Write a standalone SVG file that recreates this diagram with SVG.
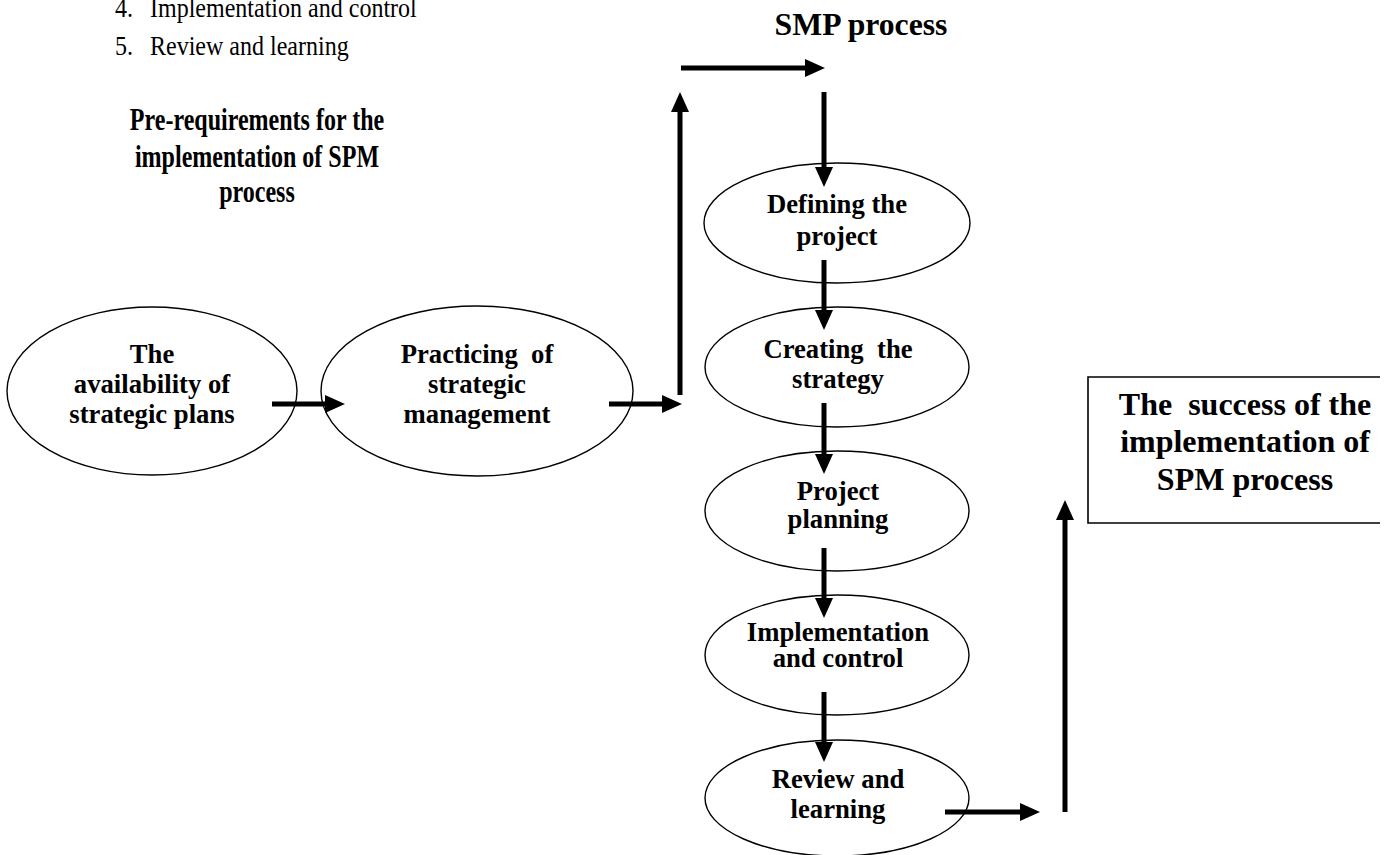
<svg xmlns="http://www.w3.org/2000/svg" width="1391" height="855" viewBox="0 0 1391 855">
  <style>
    .bg { fill: #ffffff; }
    .node { fill: #ffffff; stroke: #000000; stroke-width: 1.4; }
    .frame { fill: none; stroke: #000000; stroke-width: 1.6; }
    .list { font-family: "Liberation Serif", "Times New Roman", serif; font-size: 27px; fill: #000000; }
    .head { font-family: "Liberation Serif", "Times New Roman", serif; font-weight: bold; fill: #000000; text-anchor: middle; }
    .lbl { font-family: "Liberation Serif", "Times New Roman", serif; font-weight: bold; font-size: 26.7px; fill: #000000; text-anchor: middle; }
    .edge { stroke: #000000; stroke-width: 5; fill: none; marker-end: url(#head); }
  </style>
  <defs>
    <marker id="head" markerUnits="userSpaceOnUse" markerWidth="20" markerHeight="18" refX="1" refY="9" orient="auto">
      <path d="M0,0 L20,9 L0,18 Z" fill="#000000"/>
    </marker>
  </defs>

  <rect class="bg" x="0" y="0" width="1391" height="855"/>

  <!-- numbered steps (tail of the list), set in a slightly condensed face -->
  <g id="step-list" transform="translate(115,0) scale(0.89,1)">
    <text class="list" x="0" y="17">4.</text>
    <text class="list" x="39.3" y="17">Implementation and control</text>
    <text class="list" x="0" y="55">5.</text>
    <text class="list" x="39.3" y="55">Review and learning</text>
  </g>

  <!-- section headings -->
  <g id="title-prerequisites" transform="translate(257,0) scale(0.775,1)">
    <text class="head" font-size="31" x="0" y="130">Pre-requirements for the</text>
    <text class="head" font-size="31" x="0" y="167">implementation of SPM</text>
    <text class="head" font-size="31" x="0" y="202">process</text>
  </g>
  <g id="title-smp">
    <text class="head" font-size="31.7" x="861" y="35">SMP process</text>
  </g>

  <!-- pre-requirement nodes -->
  <g id="node-plans">
    <ellipse class="node" cx="152" cy="391" rx="145" ry="84"/>
    <text class="lbl" x="152" y="363">The</text>
    <text class="lbl" x="152" y="393">availability of</text>
    <text class="lbl" x="152" y="423">strategic plans</text>
  </g>
  <g id="node-practice">
    <ellipse class="node" cx="477" cy="391" rx="156" ry="85"/>
    <text class="lbl" x="477" y="363" xml:space="preserve">Practicing  of</text>
    <text class="lbl" x="477" y="393">strategic</text>
    <text class="lbl" x="477" y="423">management</text>
  </g>

  <!-- SMP process nodes -->
  <g id="node-define">
    <ellipse class="node" cx="837" cy="223" rx="133" ry="60"/>
    <text class="lbl" x="837" y="213">Defining the</text>
    <text class="lbl" x="837" y="245">project</text>
  </g>
  <g id="node-strategy">
    <ellipse class="node" cx="837" cy="367" rx="132" ry="60"/>
    <text class="lbl" x="838" y="358" xml:space="preserve">Creating  the</text>
    <text class="lbl" x="838" y="388">strategy</text>
  </g>
  <g id="node-planning">
    <ellipse class="node" cx="837" cy="511" rx="132" ry="60"/>
    <text class="lbl" x="838" y="500">Project</text>
    <text class="lbl" x="838" y="528">planning</text>
  </g>
  <g id="node-implementation">
    <ellipse class="node" cx="837" cy="655" rx="132" ry="60"/>
    <text class="lbl" font-size="22.4" x="838" y="641">Implementation</text>
    <text class="lbl" font-size="22.4" x="838" y="667">and control</text>
  </g>
  <g id="node-review">
    <ellipse class="node" cx="837" cy="798" rx="132" ry="58"/>
    <text class="lbl" x="838" y="788">Review and</text>
    <text class="lbl" x="838" y="818">learning</text>
  </g>

  <!-- outcome box, open on the right -->
  <g id="node-success">
    <path class="frame" d="M1380,377 H1088 V523 H1380"/>
    <text class="head" font-size="32" x="1245" y="415" xml:space="preserve">The  success of the</text>
    <text class="head" font-size="32" x="1245" y="452">implementation of</text>
    <text class="head" font-size="32" x="1245" y="490">SPM process</text>
  </g>

  <!-- connectors: each line stops where its arrowhead begins -->
  <g id="connectors">
    <line class="edge" x1="272" y1="404" x2="326" y2="404"/>
    <line class="edge" x1="609" y1="404" x2="663" y2="404"/>
    <line class="edge" x1="680" y1="395" x2="680" y2="111"/>
    <line class="edge" x1="681" y1="68" x2="806" y2="68"/>
    <line class="edge" x1="824" y1="92" x2="824" y2="168"/>
    <line class="edge" x1="824" y1="260" x2="824" y2="311"/>
    <line class="edge" x1="824" y1="403" x2="824" y2="455"/>
    <line class="edge" x1="824" y1="548" x2="824" y2="599"/>
    <line class="edge" x1="824" y1="692" x2="824" y2="743"/>
    <line class="edge" x1="945" y1="812" x2="1021" y2="812"/>
    <line class="edge" x1="1065" y1="812" x2="1065" y2="519"/>
  </g>
</svg>
